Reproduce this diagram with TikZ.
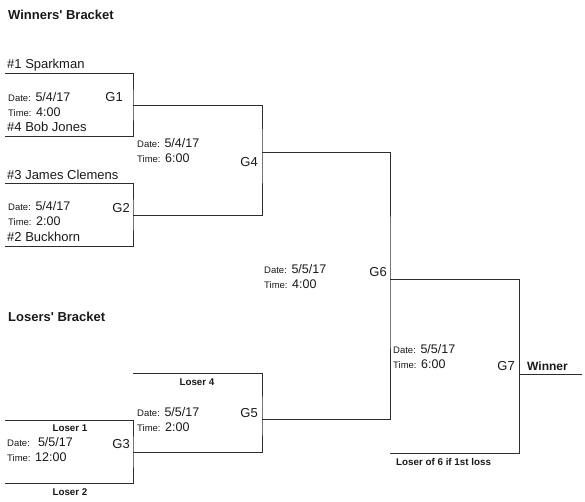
\documentclass[tikz,border=0pt]{standalone}
\usepackage{fontspec}
\setmainfont{Liberation Sans}
\usetikzlibrary{calc}
\definecolor{BracketInk}{RGB}{45,45,45}
\definecolor{BracketText}{RGB}{25,25,25}
\newcommand\lblfont{\fontsize{9.5}{11}\selectfont}

\begin{document}
\begin{tikzpicture}[x=1pt, y=-1pt,
    bracket/.style={line width=1pt, draw=BracketInk},
    team/.style={anchor=base west, inner sep=0pt, text=BracketText, font=\fontsize{13}{15}\selectfont},
    info/.style={anchor=base west, inner sep=0pt, text=BracketText, font=\fontsize{12.5}{14}\selectfont},
    gamelbl/.style={anchor=base east, inner sep=0pt, text=BracketText, font=\fontsize{13}{15}\selectfont},
    loser/.style={inner sep=0pt, text=BracketText, font=\bfseries\fontsize{9.8}{11}\selectfont},
    heading/.style={anchor=base west, inner sep=0pt, text=BracketText, font=\bfseries\fontsize{13}{15}\selectfont}]

    \useasboundingbox (0,0) rectangle (585,501);

    % --- Slots and games ---
    \coordinate (s1) at (5,73);
    \coordinate (s4) at (5,136);
    \coordinate (s3) at (5,183);
    \coordinate (s2) at (5,246);
    \coordinate (l1) at (5,420);
    \coordinate (l2) at (5,483);
    \coordinate (l4) at (133,373);
    \coordinate (l6) at (390,453);
    \coordinate (win) at (582,374);

    \coordinate (G1) at (133,105);
    \coordinate (G2) at (133,215);
    \coordinate (G3) at (133,452);
    \coordinate (G4) at (262,152);
    \coordinate (G5) at (262,419);
    \coordinate (G6) at (390,279);
    \coordinate (G7) at (519,374);

    % --- Bracket lines ---
    \draw[bracket] (s1) -| (G1) |- (s4);
    \draw[bracket] (s3) -| (G2) |- (s2);
    \draw[bracket] (l1) -| (G3) |- (l2);
    \draw[bracket] (G1) -| (G4) |- (G2);
    \draw[bracket] (l4) -| (G5) |- (G3);
    \draw[bracket] (G4) -| (G6) |- (G5);
    \draw[bracket] (G6) -| (G7) |- (l6);
    \draw[bracket] (G7) -- (win);

    % --- Headings ---
    \node[heading] (winners) at (8,19.5) {Winners\textquotesingle\ Bracket};
    \node[heading] (losers) at (8,321.5) {Losers\textquotesingle\ Bracket};

    % --- Teams ---
    \node[team] (seed1) at (7,68) {\#1 Sparkman};
    \node[team] (seed4) at (7,131) {\#4 Bob Jones};
    \node[team] (seed3) at (7,179) {\#3 James Clemens};
    \node[team] (seed2) at (7,241) {\#2 Buckhorn};

    % --- Game info (date and time) ---
    \foreach \gname/\gx/\gy/\gdate/\gtime in {
        g1/8/101/{5/4/17}/{4:00},
        g4/137/147/{5/4/17}/{6:00},
        g2/8/210/{5/4/17}/{2:00},
        g6/264/273/{5/5/17}/{4:00},
        g7/393/353/{5/5/17}/{6:00},
        g5/137/416/{5/5/17}/{2:00},
        g3/7/446/{\ 5/5/17}/{12:00}} {
        \node[info] (\gname date) at (\gx,\gy) {{\lblfont Date:} \gdate};
        \node[info] (\gname time) at (\gx,\gy+15) {{\lblfont Time:} \gtime};
    }

    % --- Game labels ---
    \foreach \gname/\gx/\gy in {G1/123/101, G4/258/166, G2/130/212, G6/387/276,
                                G7/515/370, G5/258/417, G3/130/448}
        \node[gamelbl] (\gname lbl) at (\gx,\gy) {\gname};

    % --- Losers and winner ---
    \node[loser] (loser4) at (197,382) {Loser 4};
    \node[loser] (loser1) at (70,428) {Loser 1};
    \node[loser] (loser2) at (70,492) {Loser 2};
    \node[loser, anchor=west] (loser6) at (396,462) {Loser of 6 if 1st loss};
    \node[anchor=west, inner sep=0pt, text=BracketText, font=\bfseries\fontsize{12}{14}\selectfont] (winner) at (527,366) {Winner};

\end{tikzpicture}
\end{document}
